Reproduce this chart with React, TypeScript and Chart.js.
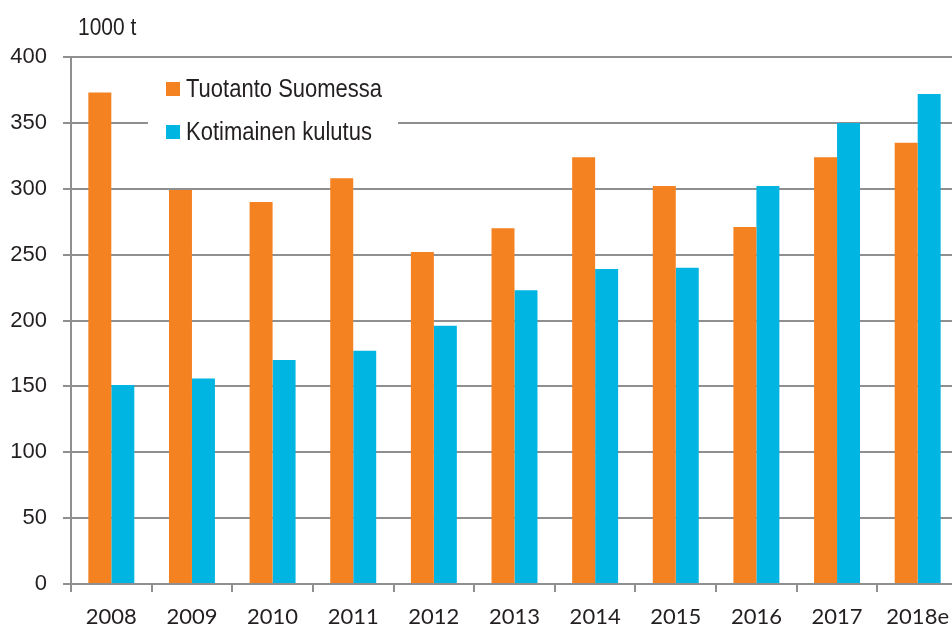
import React, { useEffect, useRef } from "react";
import { Chart, registerables } from "chart.js";

Chart.register(...registerables);

const categories = ["2008", "2009", "2010", "2011", "2012", "2013", "2014", "2015", "2016", "2017", "2018e"];
const tuotanto = [373, 299, 290, 308, 252, 270, 324, 302, 271, 324, 335];
const kulutus = [151, 156, 170, 177, 196, 223, 239, 240, 302, 350, 372];
const seriesLabels = ["Tuotanto Suomessa", "Kotimainen kulutus"];
const unitLabel = "1000 t";

const ORANGE = "#F58220";
const BLUE = "#00B5E2";
const GRID = "#8f8f8f";
const TEXT = "#231f20";
const SANS = "'Liberation Sans', Arial, sans-serif";

function stretchedText(ctx: any, text: string, x: number, y: number, size: number, sy: number) {
  ctx.save();
  ctx.translate(x, y);
  ctx.scale(1, sy);
  ctx.font = size + "px " + SANS;
  ctx.textBaseline = "middle";
  ctx.textAlign = "left";
  ctx.fillText(text, 0, 0);
  ctx.restore();
}

const overlayPlugin = {
  id: "overlay",
  afterDraw(chart: any) {
    const ctx = chart.ctx;
    ctx.save();
    ctx.fillStyle = TEXT;
    stretchedText(ctx, unitLabel, 78, 28, 21, 1.15);
    ctx.fillStyle = "#ffffff";
    ctx.fillRect(148, 66, 250, 84);
    const colors = [ORANGE, BLUE];
    const ys = [89, 132];
    chart.data.datasets.forEach((ds: any, i: number) => {
      ctx.fillStyle = colors[i];
      ctx.fillRect(166, ys[i] - 7, 14, 14);
      ctx.fillStyle = TEXT;
      stretchedText(ctx, ds.label, 186, ys[i] + 1, 22, 1.15);
    });
    ctx.restore();
  },
};

export default function App() {
  const ref = useRef<HTMLCanvasElement | null>(null);
  useEffect(() => {
    if (!ref.current) return;
    const chart = new Chart(ref.current, {
      type: "bar",
      data: {
        labels: categories,
        datasets: [
          { label: seriesLabels[0], data: tuotanto, backgroundColor: ORANGE, categoryPercentage: 0.57, barPercentage: 1.0 },
          { label: seriesLabels[1], data: kulutus, backgroundColor: BLUE, categoryPercentage: 0.57, barPercentage: 1.0 },
        ],
      },
      options: {
        animation: false,
        responsive: false,
        maintainAspectRatio: false,
        layout: { padding: { top: 57, right: 4, left: 0, bottom: 0 } },
        plugins: { legend: { display: false }, tooltip: { enabled: false }, title: { display: false } },
        scales: {
          x: {
            offset: true,
            grid: { display: true, drawOnChartArea: false, drawTicks: true, tickLength: 8, color: GRID, lineWidth: 2, offset: true },
            border: { display: true, color: GRID, width: 2 },
            ticks: { color: TEXT, font: { family: "Lato, 'Open Sans', sans-serif", size: 22 }, padding: 12, maxRotation: 0, autoSkip: false },
            afterFit: (s: any) => { s.height = 44; },
          },
          y: {
            min: 0,
            max: 400,
            ticks: { stepSize: 50, color: TEXT, font: { family: SANS, size: 22 }, padding: 16 },
            grid: { color: GRID, lineWidth: 2, tickLength: 8, drawTicks: true },
            border: { display: true, color: GRID, width: 2 },
            afterFit: (s: any) => { s.width = 71; },
          },
        },
      },
      plugins: [overlayPlugin],
    });
    return () => chart.destroy();
  }, []);
  return (
    <div style={{ position: "fixed", left: 0, top: 0, width: 952, height: 628, overflow: "hidden", background: "#fff" }}>
      <canvas ref={ref} width={962} height={628} style={{ display: "block" }} />
    </div>
  );
}
